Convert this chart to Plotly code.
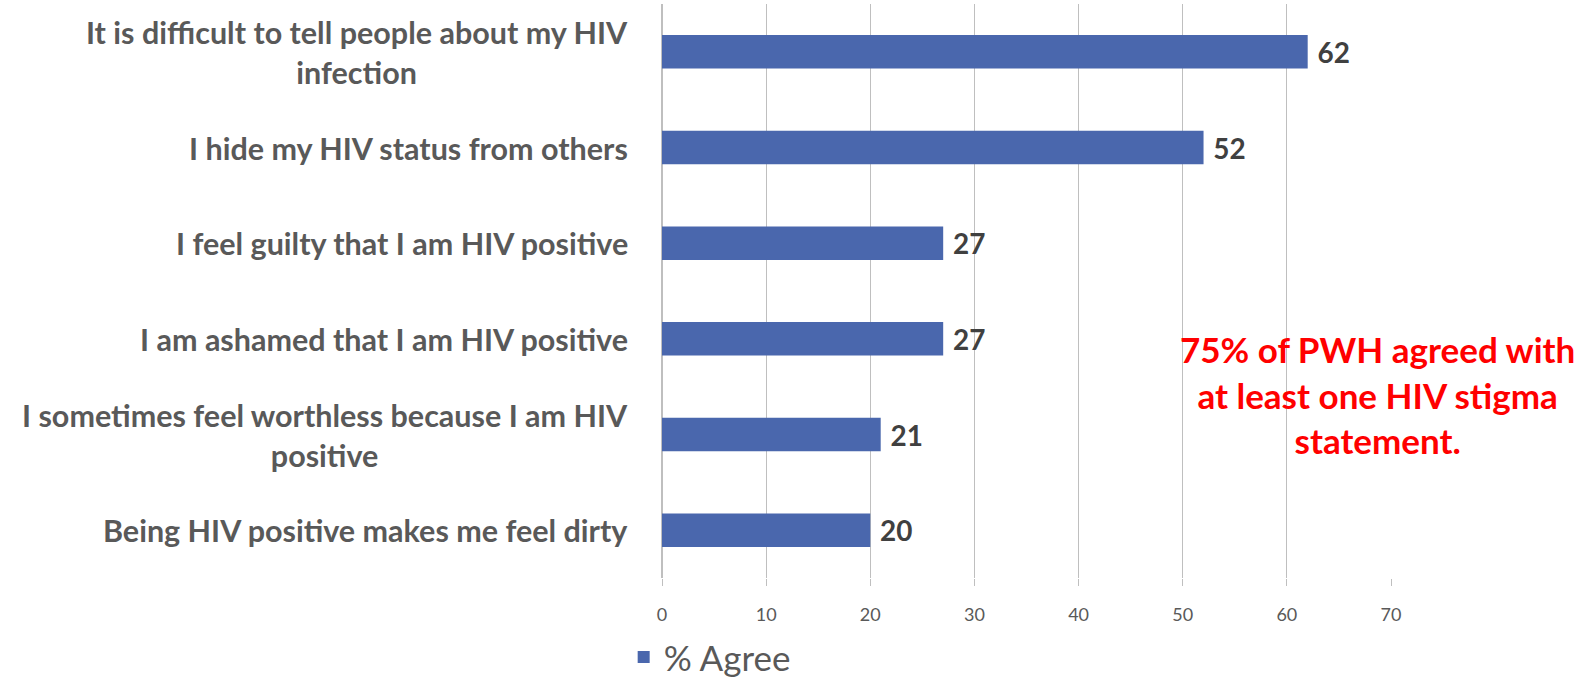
import plotly.graph_objects as go

categories = [
    "It is difficult to tell people about my HIV<br>infection",
    "I hide my HIV status from others",
    "I feel guilty that I am HIV positive",
    "I am ashamed that I am HIV positive",
    "I sometimes feel worthless because I am HIV<br>positive",
    "Being HIV positive makes me feel dirty",
]
values = [62, 52, 27, 27, 21, 20]
tick_values = [0, 10, 20, 30, 40, 50, 60, 70]
series_name = "% Agree"
note_text = "75% of PWH agreed with<br>at least one HIV stigma<br>statement."

BAR = "#4A67AD"
GRID = "#BFBFBF"
LABEL = "#595959"
FONT = "Lato"

fig = go.Figure()
fig.add_trace(go.Bar(
    x=values, y=categories, orientation="h", name=series_name,
    marker=dict(color=BAR, line=dict(width=0)),
    text=values, texttemplate=" %{text}", textposition="outside",
    textfont=dict(family=FONT, size=30, color="#404040", weight="bold"),
    cliponaxis=False, showlegend=True,
))

for c in categories:
    fig.add_annotation(
        x=0, xref="paper", y=c, yref="y", text=c, showarrow=False,
        xanchor="right", yanchor="middle", align="center", xshift=-32,
        font=dict(family=FONT, size=30.5, color=LABEL, weight="bold"),
    )

fig.add_annotation(
    x=0.981, xref="paper", y=0.32, yref="paper", text=note_text,
    showarrow=False, xanchor="center", yanchor="middle", align="center",
    font=dict(family=FONT, size=35, color="#FF0000", weight="bold"),
)

fig.update_layout(
    width=1591, height=681,
    margin=dict(l=662, r=200, t=4, b=103, autoexpand=False),
    plot_bgcolor="white", paper_bgcolor="white",
    bargap=0.65,
    xaxis=dict(
        range=[0, 70], tickvals=tick_values, showgrid=True, gridcolor=GRID,
        gridwidth=1, zeroline=True, zerolinecolor=GRID, zerolinewidth=1.5,
        ticks="outside", ticklen=7, tickcolor=GRID, ticklabelstandoff=13,
        tickfont=dict(family=FONT, size=18, color=LABEL),
        showline=False, fixedrange=True,
    ),
    yaxis=dict(
        autorange="reversed", showticklabels=False, ticks="",
        showgrid=False, showline=False, zeroline=False,
    ),
    legend=dict(
        orientation="h", xref="container", yref="container",
        x=0.392, y=0.035, xanchor="left", yanchor="middle",
        font=dict(family=FONT, size=35, color=LABEL),
        itemwidth=30, tracegroupgap=0,
    ),
    font=dict(family=FONT),
)

fig.write_html("out.html")
